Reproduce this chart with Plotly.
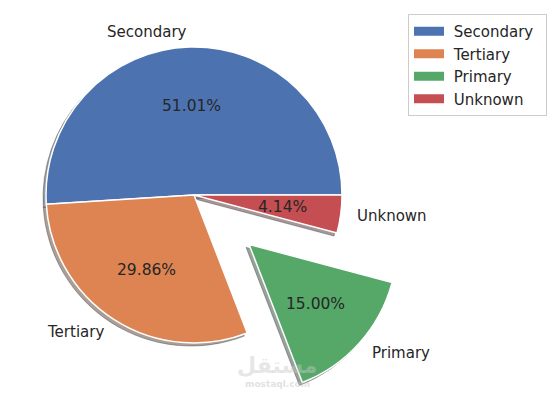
import math
import plotly.graph_objects as go

# ---- data ----
labels = ["Secondary", "Tertiary", "Primary", "Unknown"]
values = [51.01, 29.86, 15.00, 4.14]
colors = ["#4c72b0", "#dd8452", "#55a868", "#c44e52"]
explode = [0, 0, 0.5, 0]

W, H = 556, 396
CX, CY, R = 194, 195, 148          # pie centre / radius in px
SHADOW = (-3, 3)                   # shadow offset in px
TXT = "#262626"
FONT = "DejaVu Sans"

total = sum(values)
shares = [v / total for v in values]
# matplotlib-style start at 3 o'clock, counter-clockwise
rotation = 90 - 360 * shares[0]

def dom(cx, cy, r=R):
    return dict(x=[(cx - r) / W, (cx + r) / W],
                y=[1 - (cy + r) / H, 1 - (cy - r) / H])

def hex_rgb(h):
    h = h.lstrip("#")
    return tuple(int(h[i:i + 2], 16) for i in (0, 2, 4))

def shade(h):
    r, g, b = hex_rgb(h)
    return f"rgba({int(r*0.3)},{int(g*0.3)},{int(b*0.3)},0.45)"

# mid angles (math degrees, CCW from 3 o'clock)
mids = []
acc = 0
for s in shares:
    mids.append(acc + 180 * s)
    acc += 360 * s

fig = go.Figure()
TRANSP = "rgba(0,0,0,0)"

def pie_trace(mask, shadow, dx, dy):
    cols, lw, lc = [], [], []
    for i, c in enumerate(colors):
        if mask[i]:
            cols.append(shade(c) if shadow else c)
            lw.append(1 if shadow else 1.5)
            lc.append("rgba(60,60,60,0.4)" if shadow else "white")
        else:
            cols.append(TRANSP)
            lw.append(0)
            lc.append(TRANSP)
    return go.Pie(labels=labels, values=values, sort=False,
                  direction="counterclockwise", rotation=rotation,
                  marker=dict(colors=cols, line=dict(color=lc, width=lw)),
                  textinfo="none", hoverinfo="skip", showlegend=False,
                  domain=dom(CX + dx, CY + dy))

groups = []
for e in sorted(set(explode)):
    mask = [ex == e for ex in explode]
    if e == 0:
        dx = dy = 0.0
    else:
        idx = explode.index(e)
        a = math.radians(mids[idx])
        dx, dy = e * R * math.cos(a), -e * R * math.sin(a)
    groups.append((mask, dx, dy))

for mask, dx, dy in groups:
    fig.add_trace(pie_trace(mask, True, dx + SHADOW[0], dy + SHADOW[1]))
for mask, dx, dy in groups:
    fig.add_trace(pie_trace(mask, False, dx, dy))

# legend entries (wide swatches like matplotlib)
for i, lab in enumerate(labels):
    fig.add_trace(go.Scatter(x=[None], y=[None], mode="lines",
                             name="\u00a0" + lab + "\u00a0\u2009",
                             line=dict(color=colors[i], width=9),
                             legendgroup=lab, showlegend=True))

# labels & percentages
ann = []
for i, lab in enumerate(labels):
    a = math.radians(mids[i])
    ox, oy = explode[i] * R * math.cos(a), -explode[i] * R * math.sin(a)
    cx, cy = CX + ox, CY + oy
    lx = cx + 1.1 * R * math.cos(a)
    ly = cy - 1.1 * R * math.sin(a)
    ann.append(dict(x=lx / W, y=1 - ly / H, xref="paper", yref="paper",
                    text=lab, showarrow=False,
                    xanchor="left" if math.cos(a) > 0 else "right",
                    yanchor="middle", font=dict(size=15, color=TXT, family=FONT)))
    px = cx + 0.6 * R * math.cos(a)
    py = cy - 0.6 * R * math.sin(a)
    ann.append(dict(x=px / W, y=1 - py / H, xref="paper", yref="paper",
                    text=f"{values[i]:.2f}%", showarrow=False,
                    xanchor="center", yanchor="middle",
                    font=dict(size=15.5, color=TXT, family=FONT)))

# watermark
ann.append(dict(x=277 / W, y=1 - 365 / H, xref="paper", yref="paper",
                text="<b>مستقل</b>", showarrow=False, xanchor="center",
                yanchor="middle", font=dict(size=22, color="rgba(200,200,200,0.45)",
                                            family=FONT)))
ann.append(dict(x=277 / W, y=1 - 384 / H, xref="paper", yref="paper",
                text="<b>mostaql.com</b>", showarrow=False, xanchor="center",
                yanchor="middle", font=dict(size=9, color="rgba(200,200,200,0.55)",
                                            family=FONT)))

fig.update_layout(
    width=W, height=H,
    margin=dict(l=0, r=0, t=0, b=0),
    paper_bgcolor="white", plot_bgcolor="white",
    xaxis=dict(visible=False), yaxis=dict(visible=False),
    annotations=ann,
    font=dict(family=FONT, color=TXT),
    legend=dict(x=547 / W, y=1 - 14 / H, xanchor="right", yanchor="top",
                bgcolor="white", bordercolor="#cccccc", borderwidth=1,
                font=dict(size=15, color=TXT, family=FONT),
                traceorder="grouped", tracegroupgap=0),
)

fig.write_html("out.html",
               config={"displayModeBar": False},
               post_script="document.body.style.margin='0px';"
                           "document.body.style.overflow='hidden';")
